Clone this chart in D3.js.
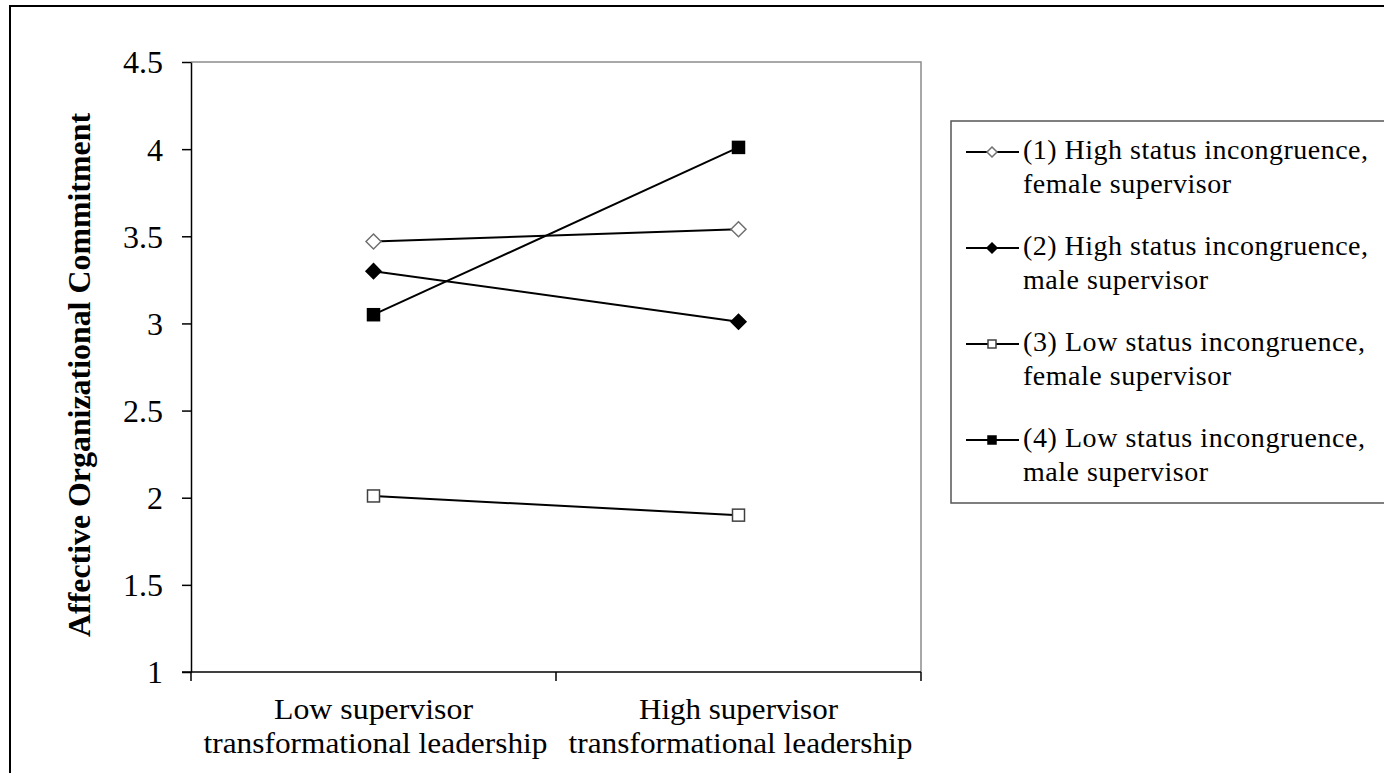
<!DOCTYPE html>
<html>
<head>
<meta charset="utf-8">
<script src="https://cdn.jsdelivr.net/npm/d3@7/dist/d3.min.js"></script>
<style>
  html, body { margin: 0; padding: 0; background: #fff; }
  svg { display: block; }
  text { font-family: "Liberation Serif", "Times New Roman", serif; fill: #000; }
</style>
</head>
<body>
<svg id="chart" width="1384" height="773"></svg>
<script>
// ---- data ----
const categories = ["Low supervisor|transformational leadership", "High supervisor|transformational leadership"];
const seriesNames = [
  ["(1) High status incongruence,", "female supervisor"],
  ["(2) High status incongruence,", "male supervisor"],
  ["(3) Low status incongruence,", "female supervisor"],
  ["(4) Low status incongruence,", "male supervisor"]
];
const series1 = [3.47, 3.54];
const series2 = [3.30, 3.01];
const series3 = [2.01, 1.90];
const series4 = [3.05, 4.01];
const yTicks = [1, 1.5, 2, 2.5, 3, 3.5, 4, 4.5];
const yTickLabels = ["1", "1.5", "2", "2.5", "3", "3.5", "4", "4.5"];
const yTitle = "Affective Organizational Commitment";

const markerTypes = ["diamondOpen", "diamondFilled", "squareOpen", "squareFilled"];
const allSeries = [series1, series2, series3, series4];

// ---- layout ----
const svg = d3.select("#chart");
const plot = { left: 191, right: 921, top: 62, bottom: 672 };

// outer frame
svg.append("rect").attr("x", 10).attr("y", 6).attr("width", 1390).attr("height", 800)
  .attr("fill", "none").attr("stroke", "#000").attr("stroke-width", 2);

const x = d3.scaleBand().domain(categories).range([plot.left, plot.right]).padding(0);
const y = d3.scaleLinear().domain([1, 4.5]).range([plot.bottom, plot.top]);

// plot area top/right border (gray)
svg.append("path")
  .attr("d", `M${plot.left},${y(4.5)}H${plot.right}V${y(1)}`)
  .attr("fill", "none").attr("stroke", "#8c8c8c").attr("stroke-width", 1.5);

// y axis
const yAxis = d3.axisLeft(y).tickValues(yTicks).tickSize(9).tickSizeOuter(0)
  .tickFormat((d, i) => yTickLabels[i]);
const gy = svg.append("g").attr("transform", `translate(${plot.left},0)`).call(yAxis);
gy.select(".domain").attr("stroke", "#000").attr("stroke-width", 1.5);
gy.selectAll(".tick line").attr("stroke", "#000").attr("stroke-width", 1.5);
gy.selectAll(".tick text").attr("x", -28).attr("dy", "0.34em")
  .style("font-family", '"Liberation Serif", serif').style("font-size", "32px").attr("fill", "#000");

// x axis line + ticks at category boundaries
const gx = svg.append("g");
gx.append("line").attr("x1", plot.left - 9).attr("x2", plot.right)
  .attr("y1", y(1)).attr("y2", y(1)).attr("stroke", "#000").attr("stroke-width", 1.5);
const edges = categories.map(c => x(c)).concat([x(categories[categories.length - 1]) + x.bandwidth()]);
gx.selectAll("line.tk").data(edges).enter().append("line").attr("class", "tk")
  .attr("x1", d => d).attr("x2", d => d).attr("y1", y(1)).attr("y2", y(1) + 9)
  .attr("stroke", "#000").attr("stroke-width", 1.5);

// x labels
categories.forEach(c => {
  const lines = c.split("|");
  const cx = x(c) + x.bandwidth() / 2;
  const widths = [199, 344];
  lines.forEach((ln, i) => {
    gx.append("text").attr("x", cx + (i === 1 ? 2 : 0)).attr("y", 719 + i * 34)
      .attr("text-anchor", "middle").style("font-size", "29px")
      .attr("textLength", widths[i]).attr("lengthAdjust", "spacingAndGlyphs")
      .text(ln);
  });
});

// y title
svg.append("text")
  .attr("transform", `translate(90,${(113 + 637) / 2}) rotate(-90)`)
  .attr("text-anchor", "middle").style("font-size", "32px").style("font-weight", "bold")
  .attr("textLength", 524).attr("lengthAdjust", "spacingAndGlyphs")
  .text(yTitle);

// markers
function drawMarker(g, type, cx, cy, s) {
  if (type.startsWith("diamond")) {
    const r = s;
    g.append("path").attr("d", `M${cx},${cy - r}L${cx + r},${cy}L${cx},${cy + r}L${cx - r},${cy}Z`)
      .attr("fill", type === "diamondOpen" ? "#fff" : "#000")
      .attr("stroke", type === "diamondOpen" ? "#707070" : "#000").attr("stroke-width", 1.5);
  } else {
    const h = s * 0.8;
    g.append("rect").attr("x", cx - h).attr("y", cy - h).attr("width", 2 * h).attr("height", 2 * h)
      .attr("fill", type === "squareOpen" ? "#fff" : "#000")
      .attr("stroke", type === "squareOpen" ? "#404040" : "#000").attr("stroke-width", 1.5);
  }
}

const line = d3.line().x((d, i) => x(categories[i]) + x.bandwidth() / 2).y(d => y(d));
const gs = svg.append("g");
allSeries.forEach((s, k) => {
  gs.append("path").datum(s).attr("d", line).attr("fill", "none")
    .attr("stroke", "#000").attr("stroke-width", 2);
});
allSeries.forEach((s, k) => {
  s.forEach((v, i) => {
    drawMarker(gs, markerTypes[k], x(categories[i]) + x.bandwidth() / 2, y(v), 7.5);
  });
});

// legend
const lg = svg.append("g");
lg.append("rect").attr("x", 951).attr("y", 121).attr("width", 460).attr("height", 382)
  .attr("fill", "#fff").attr("stroke", "#555").attr("stroke-width", 1.5);
const line1W = [345, 345, 342, 342];
seriesNames.forEach((nm, k) => {
  const base = 159 + k * 96;
  const sy = base - 7;
  lg.append("line").attr("x1", 966).attr("x2", 1019).attr("y1", sy).attr("y2", sy)
    .attr("stroke", "#000").attr("stroke-width", 2);
  drawMarker(lg, markerTypes[k], 992, sy, 5);
  lg.append("text").attr("x", 1023).attr("y", base).style("font-size", "28px")
    .attr("textLength", line1W[k]).attr("lengthAdjust", "spacing").text(nm[0]);
  lg.append("text").attr("x", 1023).attr("y", base + 34).style("font-size", "28px")
    .attr("textLength", nm[1].startsWith("female") ? 208 : 185).attr("lengthAdjust", "spacing").text(nm[1]);
});
</script>
</body>
</html>
